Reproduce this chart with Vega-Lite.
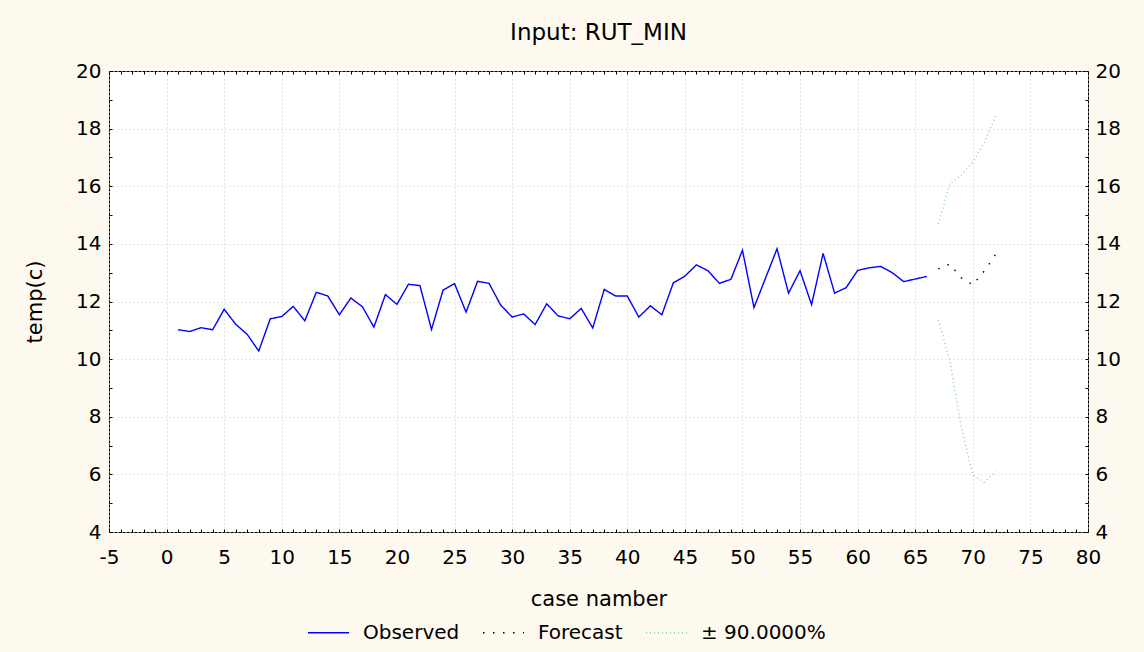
{
  "$schema": "https://vega.github.io/schema/vega-lite/v6.json",
  "width": 979,
  "height": 461,
  "autosize": {"type": "none"},
  "padding": {"left": 109, "top": 71, "right": 56, "bottom": 120},
  "background": "#FDF9EE",
  "config": {
    "font": "DejaVu Sans",
    "view": {"fill": "white", "stroke": "black", "strokeWidth": 1},
    "axis": {"labelColor": "black", "labelFont": "DejaVu Sans", "titleFont": "DejaVu Sans", "titleColor": "black", "titleFontWeight": "normal", "tickColor": "black", "domain": false},
    "legend": {"labelFont": "DejaVu Sans", "labelColor": "black", "labelFontSize": 20, "symbolType": "stroke", "symbolSize": 1681, "symbolStrokeWidth": 1.4, "labelOffset": 13, "columnPadding": 20, "labelLimit": 400, "direction": "horizontal", "orient": "none", "legendX": 198, "legendY": 540, "title": null}
  },
  "title": {"text": "Input: RUT_MIN", "fontSize": 23, "fontWeight": "normal", "font": "DejaVu Sans", "color": "black", "anchor": "middle", "baseline": "alphabetic", "offset": -2},
  "data": {"values": [
    {"case": 1, "temp": 11.02, "series": "Observed", "part": "obs"},
    {"case": 2, "temp": 10.96, "series": "Observed", "part": "obs"},
    {"case": 3, "temp": 11.09, "series": "Observed", "part": "obs"},
    {"case": 4, "temp": 11.02, "series": "Observed", "part": "obs"},
    {"case": 5, "temp": 11.73, "series": "Observed", "part": "obs"},
    {"case": 6, "temp": 11.21, "series": "Observed", "part": "obs"},
    {"case": 7, "temp": 10.86, "series": "Observed", "part": "obs"},
    {"case": 8, "temp": 10.28, "series": "Observed", "part": "obs"},
    {"case": 9, "temp": 11.40, "series": "Observed", "part": "obs"},
    {"case": 10, "temp": 11.48, "series": "Observed", "part": "obs"},
    {"case": 11, "temp": 11.83, "series": "Observed", "part": "obs"},
    {"case": 12, "temp": 11.33, "series": "Observed", "part": "obs"},
    {"case": 13, "temp": 12.32, "series": "Observed", "part": "obs"},
    {"case": 14, "temp": 12.19, "series": "Observed", "part": "obs"},
    {"case": 15, "temp": 11.54, "series": "Observed", "part": "obs"},
    {"case": 16, "temp": 12.12, "series": "Observed", "part": "obs"},
    {"case": 17, "temp": 11.82, "series": "Observed", "part": "obs"},
    {"case": 18, "temp": 11.11, "series": "Observed", "part": "obs"},
    {"case": 19, "temp": 12.24, "series": "Observed", "part": "obs"},
    {"case": 20, "temp": 11.90, "series": "Observed", "part": "obs"},
    {"case": 21, "temp": 12.60, "series": "Observed", "part": "obs"},
    {"case": 22, "temp": 12.55, "series": "Observed", "part": "obs"},
    {"case": 23, "temp": 11.03, "series": "Observed", "part": "obs"},
    {"case": 24, "temp": 12.39, "series": "Observed", "part": "obs"},
    {"case": 25, "temp": 12.62, "series": "Observed", "part": "obs"},
    {"case": 26, "temp": 11.63, "series": "Observed", "part": "obs"},
    {"case": 27, "temp": 12.70, "series": "Observed", "part": "obs"},
    {"case": 28, "temp": 12.63, "series": "Observed", "part": "obs"},
    {"case": 29, "temp": 11.88, "series": "Observed", "part": "obs"},
    {"case": 30, "temp": 11.46, "series": "Observed", "part": "obs"},
    {"case": 31, "temp": 11.57, "series": "Observed", "part": "obs"},
    {"case": 32, "temp": 11.20, "series": "Observed", "part": "obs"},
    {"case": 33, "temp": 11.92, "series": "Observed", "part": "obs"},
    {"case": 34, "temp": 11.50, "series": "Observed", "part": "obs"},
    {"case": 35, "temp": 11.40, "series": "Observed", "part": "obs"},
    {"case": 36, "temp": 11.76, "series": "Observed", "part": "obs"},
    {"case": 37, "temp": 11.08, "series": "Observed", "part": "obs"},
    {"case": 38, "temp": 12.42, "series": "Observed", "part": "obs"},
    {"case": 39, "temp": 12.19, "series": "Observed", "part": "obs"},
    {"case": 40, "temp": 12.19, "series": "Observed", "part": "obs"},
    {"case": 41, "temp": 11.46, "series": "Observed", "part": "obs"},
    {"case": 42, "temp": 11.85, "series": "Observed", "part": "obs"},
    {"case": 43, "temp": 11.54, "series": "Observed", "part": "obs"},
    {"case": 44, "temp": 12.65, "series": "Observed", "part": "obs"},
    {"case": 45, "temp": 12.88, "series": "Observed", "part": "obs"},
    {"case": 46, "temp": 13.27, "series": "Observed", "part": "obs"},
    {"case": 47, "temp": 13.07, "series": "Observed", "part": "obs"},
    {"case": 48, "temp": 12.63, "series": "Observed", "part": "obs"},
    {"case": 49, "temp": 12.77, "series": "Observed", "part": "obs"},
    {"case": 50, "temp": 13.78, "series": "Observed", "part": "obs"},
    {"case": 51, "temp": 11.79, "series": "Observed", "part": "obs"},
    {"case": 52, "temp": 12.81, "series": "Observed", "part": "obs"},
    {"case": 53, "temp": 13.83, "series": "Observed", "part": "obs"},
    {"case": 54, "temp": 12.29, "series": "Observed", "part": "obs"},
    {"case": 55, "temp": 13.07, "series": "Observed", "part": "obs"},
    {"case": 56, "temp": 11.89, "series": "Observed", "part": "obs"},
    {"case": 57, "temp": 13.67, "series": "Observed", "part": "obs"},
    {"case": 58, "temp": 12.29, "series": "Observed", "part": "obs"},
    {"case": 59, "temp": 12.48, "series": "Observed", "part": "obs"},
    {"case": 60, "temp": 13.08, "series": "Observed", "part": "obs"},
    {"case": 61, "temp": 13.17, "series": "Observed", "part": "obs"},
    {"case": 62, "temp": 13.22, "series": "Observed", "part": "obs"},
    {"case": 63, "temp": 13.00, "series": "Observed", "part": "obs"},
    {"case": 64, "temp": 12.69, "series": "Observed", "part": "obs"},
    {"case": 65, "temp": 12.78, "series": "Observed", "part": "obs"},
    {"case": 66, "temp": 12.87, "series": "Observed", "part": "obs"},
    {"case": 67, "temp": 13.13, "series": "Forecast", "part": "fc"},
    {"case": 68, "temp": 13.30, "series": "Forecast", "part": "fc"},
    {"case": 69, "temp": 12.82, "series": "Forecast", "part": "fc"},
    {"case": 70, "temp": 12.58, "series": "Forecast", "part": "fc"},
    {"case": 71, "temp": 13.06, "series": "Forecast", "part": "fc"},
    {"case": 72, "temp": 13.65, "series": "Forecast", "part": "fc"},
    {"case": 67, "temp": 14.69, "series": "± 90.0000%", "part": "upper"},
    {"case": 68, "temp": 16.08, "series": "± 90.0000%", "part": "upper"},
    {"case": 69, "temp": 16.38, "series": "± 90.0000%", "part": "upper"},
    {"case": 70, "temp": 16.84, "series": "± 90.0000%", "part": "upper"},
    {"case": 71, "temp": 17.52, "series": "± 90.0000%", "part": "upper"},
    {"case": 72, "temp": 18.45, "series": "± 90.0000%", "part": "upper"},
    {"case": 67, "temp": 11.36, "series": "± 90.0000%", "part": "lower"},
    {"case": 68, "temp": 9.97, "series": "± 90.0000%", "part": "lower"},
    {"case": 69, "temp": 7.63, "series": "± 90.0000%", "part": "lower"},
    {"case": 70, "temp": 5.97, "series": "± 90.0000%", "part": "lower"},
    {"case": 71, "temp": 5.73, "series": "± 90.0000%", "part": "lower"},
    {"case": 72, "temp": 6.10, "series": "± 90.0000%", "part": "lower"}
  ]},
  "layer": [
    {
      "mark": {"type": "line", "strokeWidth": 1.4},
      "encoding": {
        "x": {"field": "case", "type": "quantitative", "scale": {"domain": [-5, 80], "nice": false, "zero": false},
          "axis": {"orient": "bottom", "values": [-5,-4,-3,-2,-1,0,1,2,3,4,5,6,7,8,9,10,11,12,13,14,15,16,17,18,19,20,21,22,23,24,25,26,27,28,29,30,31,32,33,34,35,36,37,38,39,40,41,42,43,44,45,46,47,48,49,50,51,52,53,54,55,56,57,58,59,60,61,62,63,64,65,66,67,68,69,70,71,72,73,74,75,76,77,78,79,80],
            "labelExpr": "datum.value % 5 === 0 ? '' + datum.value : ''", "labelOverlap": false, "labelFlush": false, "labelBound": false,
            "labelFontSize": 20, "labelPadding": 18, "tickSize": -3,
            "grid": true, "gridColor": "#cccccc", "gridDash": [1, 3], "gridOpacity": {"condition": {"test": "datum.value % 5 === 0", "value": 1}, "value": 0},
            "title": "case namber", "titleFontSize": 21, "titlePadding": 21}},
        "y": {"field": "temp", "type": "quantitative", "scale": {"domain": [4, 20], "nice": false, "zero": false},
          "axis": {"orient": "left", "values": [4,5,6,7,8,9,10,11,12,13,14,15,16,17,18,19,20],
            "labelExpr": "datum.value % 2 === 0 ? '' + datum.value : ''", "labelOverlap": false, "labelFlush": false, "labelBound": false,
            "labelFontSize": 20, "labelPadding": 11, "tickSize": -3,
            "grid": true, "gridColor": "#cccccc", "gridDash": [1, 3], "gridOpacity": {"condition": {"test": "datum.value % 2 === 0", "value": 1}, "value": 0},
            "title": "temp(c)", "titleFontSize": 21, "titlePadding": 30}},
        "color": {"field": "series", "type": "nominal", "scale": {"domain": ["Observed", "Forecast", "± 90.0000%"], "range": ["#0000FF", "#000000", "#8FD48F"]},
          "legend": {"orient": "none", "legendX": 198, "legendY": 540, "direction": "horizontal", "title": null,
            "encode": {"symbols": {"enter": {"strokeDash": {"signal": "datum.value === 'Observed' ? [1, 0] : [1, 1.5]"}}, "update": {"strokeDash": {"signal": "datum.value === 'Observed' ? [1, 0] : [1, 1.5]"}}}}}},
        "strokeDash": {"field": "series", "type": "nominal", "scale": {"domain": ["Observed", "Forecast", "± 90.0000%"], "range": [[1, 0], [1.5, 8.5], [1, 3]]},
          "legend": {"orient": "none", "legendX": 198, "legendY": 540, "direction": "horizontal", "title": null,
            "encode": {"symbols": {"enter": {"strokeDash": {"signal": "datum.value === 'Observed' ? [1, 0] : [1, 1.5]"}}, "update": {"strokeDash": {"signal": "datum.value === 'Observed' ? [1, 0] : [1, 1.5]"}}}}}},
        "detail": {"field": "part"}
      }
    },
    {
      "mark": {"type": "line", "opacity": 0},
      "encoding": {
        "x": {"field": "case", "type": "quantitative",
          "axis": {"orient": "top", "values": [-5,-4,-3,-2,-1,0,1,2,3,4,5,6,7,8,9,10,11,12,13,14,15,16,17,18,19,20,21,22,23,24,25,26,27,28,29,30,31,32,33,34,35,36,37,38,39,40,41,42,43,44,45,46,47,48,49,50,51,52,53,54,55,56,57,58,59,60,61,62,63,64,65,66,67,68,69,70,71,72,73,74,75,76,77,78,79,80],
            "labels": false, "tickSize": -3, "grid": false, "title": null}},
        "y": {"field": "temp", "type": "quantitative",
          "axis": {"orient": "right", "values": [4,5,6,7,8,9,10,11,12,13,14,15,16,17,18,19,20],
            "labelExpr": "datum.value % 2 === 0 ? '' + datum.value : ''", "labelOverlap": false, "labelFlush": false, "labelBound": false,
            "labelFontSize": 20, "labelPadding": 10, "tickSize": -3, "grid": false, "title": null}},
        "detail": {"field": "part"}
      }
    }
  ],
  "resolve": {"axis": {"x": "independent", "y": "independent"}}
}
